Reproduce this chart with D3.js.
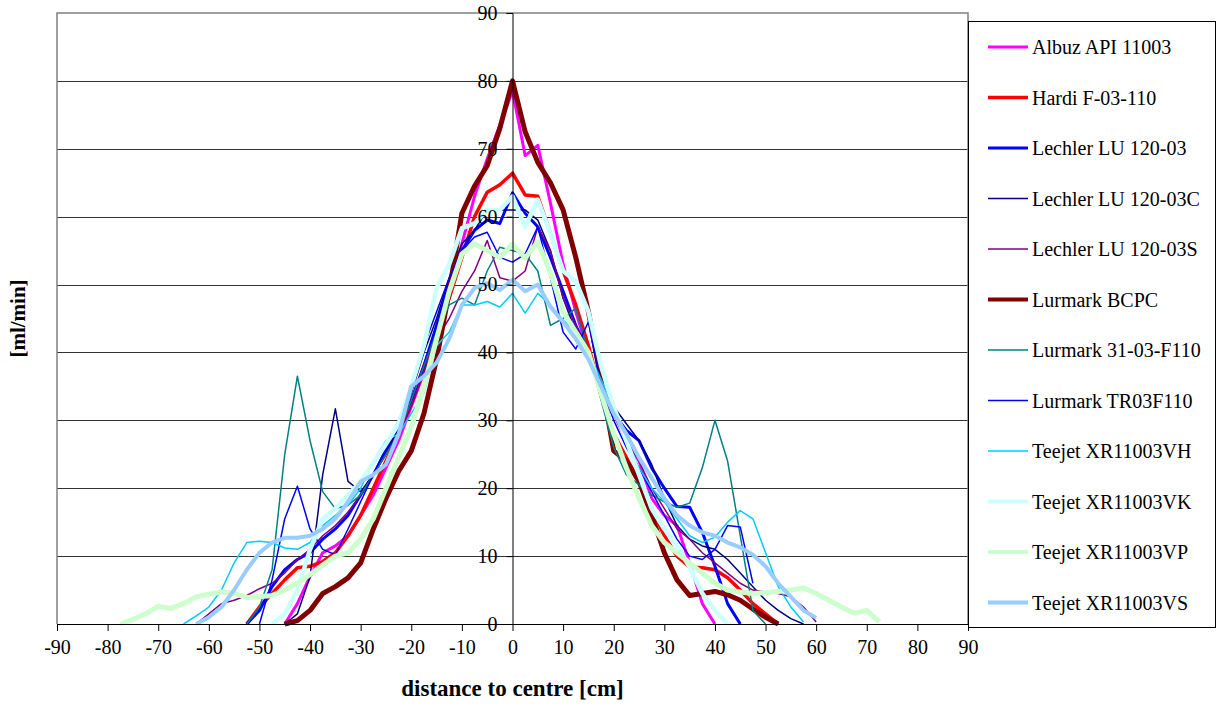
<!DOCTYPE html>
<html>
<head>
<meta charset="utf-8">
<script src="https://cdn.jsdelivr.net/npm/d3@7"></script>
<style>
  body { margin: 0; background: #fff; }
  text { font-family: "Liberation Serif", "Times New Roman", serif; fill: #000; }
</style>
</head>
<body>
<div id="chart"></div>
<script>
var n = null;

// distance to centre [cm]
var distance = [
  -77.5, -75, -72.5, -70, -67.5, -65, -62.5, -60, -57.5, -55,
  -52.5, -50, -47.5, -45, -42.5, -40, -37.5, -35, -32.5, -30,
  -27.5, -25, -22.5, -20, -17.5, -15, -12.5, -10, -7.5, -5,
  -2.5, 0, 2.5, 5, 7.5, 10, 12.5, 15, 17.5, 20,
  22.5, 25, 27.5, 30, 32.5, 35, 37.5, 40, 42.5, 45,
  47.5, 50, 52.5, 55, 57.5, 60, 62.5, 65, 67.5, 70, 72.5
];

// [ml/min]
var albuz = [
  n, n, n, n, n, n, n, n, n, n,
  n, n, n, 0, 3, 7, 10.5, 11.5, 13, 16,
  19, 23, 27, 32, 37, 43, 50, 56, 63, 68.5,
  73.5, 78.5, 69, 70.5, 62, 53, 46, 40, 34, 31,
  27, 24, 18.5, 16, 14.5, 9, 3, 0, n, n,
  n, n, n, n, n, n, n, n, n, n, n
];
var hardi = [
  n, n, n, n, n, n, n, n, n, n,
  0, 2.5, 4.5, 6.5, 8.3, 8.5, 9.2, 10.5, 13, 16,
  20, 24, 28, 32.5, 38, 43, 48, 54, 60, 63.6,
  64.7, 66.4, 63.2, 63, 57.5, 52, 47, 41, 34, 28,
  24.5, 21, 17, 13, 10, 8.4, 8.3, 8, 6.8, 5,
  3, 1.5, 0, n, n, n, n, n, n, n, n
];
var lu12003 = [
  n, n, n, n, n, n, n, n, n, n,
  0, 2, 5.5, 8, 9.5, 10.5, 12.5, 14, 16, 19,
  22, 25.5, 29, 33, 38, 44, 50, 55, 58, 59.5,
  59, 63.5, 60.5, 58.5, 54, 49, 44, 40, 35, 31,
  28.5, 27, 23, 20, 17.3, 17.2, 13.5, 8.5, 3, 0,
  n, n, n, n, n, n, n, n, n, n, n
];
var lu12003c = [
  n, n, n, n, n, n, n, n, n, n,
  n, n, n, 0, 1.5, 7, 22, 31.7, 21, 19.5,
  22, 25, 29, 34, 40, 45, 51, 56, 58, 61,
  61, 61, 61, 59.5, 55, 48, 43, 39, 35, 32,
  29.5, 27, 23.5, 18.5, 14.5, 12.5, 11.5, 11, 9.5, 7.5,
  5.5, 3.5, 2, 0.8, 0, n, n, n, n, n, n
];
var lu12003s = [
  n, n, n, n, n, n, 0, 1.5, 3, 3.5,
  4.2, 5.2, 6, 7.5, 9.5, 11, 13, 14.5, 16.5, 19,
  22, 25, 28, 32, 37, 42, 45, 49, 52, 56.5,
  51, 50.5, 52, 58.5, 55, 48, 44, 40, 35, 31,
  27, 24, 20, 17, 14, 12.5, 10.5, 9, 7.5, 6,
  5, 4.7, 4.5, 4, 2.5, 0.3, n, n, n, n, n
];
var bcpc = [
  n, n, n, n, n, n, n, n, n, n,
  n, n, n, 0, 0.5, 2, 4.5, 5.5, 6.8, 9,
  14, 18.5, 22.5, 25.5, 31, 39, 49, 60.5, 64.5, 67.5,
  73, 80, 72.5, 68, 65, 61, 54, 46, 36, 25.5,
  24, 21, 16, 10.5, 6.5, 4.2, 4.5, 4.8, 4.3, 3.5,
  2.2, 1, 0, n, n, n, n, n, n, n, n
];
var lm3103 = [
  n, n, n, n, n, n, n, n, n, n,
  0, 2.5, 8, 25, 36.5, 27, 19.5, 17, 17.5, 19,
  22, 25, 28, 33, 38, 43, 47, 48, 47, 52,
  55.5, 55, 54.5, 52, 44, 45, 46.5, 40, 33, 26,
  22, 20.5, 19, 18, 17.2, 17.8, 23, 30, 24, 13,
  2, 0, n, n, n, n, n, n, n, n, n
];
var tr03 = [
  n, n, n, n, n, n, n, n, n, n,
  n, 0, 6.5, 15.5, 20.3, 14, 11, 10.2, 14, 18,
  22, 26, 30, 35, 41, 46, 51, 55, 57, 57.7,
  54, 53.3, 54.5, 58.5, 51, 43, 40.5, 44.5, 35, 30,
  26, 23, 19.5, 16, 12.5, 10, 9.5, 11, 14.5, 14.3,
  6, n, n, n, n, n, n, n, n, n, n
];
var vh = [
  n, n, n, n, n, 0, 1.2, 2.5, 5, 9,
  12, 12.2, 12, 11.2, 11, 12, 14.5, 16, 17.5, 20,
  24, 27, 28, 31, 34, 41, 43, 47, 47, 47.5,
  46.7, 48.7, 45.8, 48.7, 47, 44.8, 43, 40, 36, 32,
  27, 23, 20, 18, 15.5, 13, 12, 12.8, 15, 16.7,
  15.5, 10.5, 5.5, 2.5, 0.3, n, n, n, n, n, n
];
var vk = [
  n, n, n, n, n, n, n, n, n, n,
  n, n, 0, 1.5, 5, 11, 15.5, 17, 19, 21,
  23.7, 26.5, 29.5, 35, 41, 49.5, 53, 58.3, 59, 61,
  61, 63, 58.5, 62.5, 57.5, 52, 50.5, 46, 38, 32,
  27, 22, 17, 14, 11.5, 8.4, 4.5, 2, 0, n,
  n, n, n, n, n, n, n, n, n, n, n
];
var vp = [
  0, 0.7, 1.5, 2.6, 2.3, 3, 4, 4.4, 4.7, 4.5,
  3.9, 4, 4.2, 5, 6, 7.3, 8.7, 10, 10.5, 12.5,
  15.5, 20, 24.5, 29, 35, 42, 49, 54.5, 56, 55,
  54, 56, 53.9, 56.3, 51.7, 46, 43, 40, 34, 28,
  23, 18.5, 14.5, 12, 10.5, 9, 7.5, 6, 5, 4.7,
  4.5, 4.6, 4.8, 5, 5.3, 4.5, 3.5, 2.5, 1.6, 2, 0.3
];
var vs = [
  n, n, n, n, n, n, 0, 1, 2.5, 5,
  8, 10.5, 12, 12.7, 12.7, 13, 14, 15.5, 18, 21,
  22, 23.5, 28, 35, 36.5, 38.5, 42, 47, 49.5, 50.2,
  49.2, 50.7, 49, 50, 46.7, 44.5, 42, 39, 35, 31,
  28, 24.5, 21.5, 18.5, 16, 14.5, 13.5, 13, 12, 11.3,
  10.2, 8.5, 6, 4, 2, 0.9, n, n, n, n, n
];

var names = ["Albuz API 11003", "Hardi F-03-110", "Lechler LU 120-03", "Lechler LU 120-03C",
  "Lechler LU 120-03S", "Lurmark BCPC", "Lurmark 31-03-F110", "Lurmark TR03F110",
  "Teejet XR11003VH", "Teejet XR11003VK", "Teejet XR11003VP", "Teejet XR11003VS"];
var values = [albuz, hardi, lu12003, lu12003c, lu12003s, bcpc, lm3103, tr03, vh, vk, vp, vs];
var colors = ["#ff00ff", "#ff0000", "#0000ff", "#000080", "#800080", "#800000",
  "#008080", "#0000ff", "#00ccff", "#ccffff", "#ccffcc", "#99ccff"];
var widths = [3, 3.5, 3, 1.5, 1.5, 5, 1.5, 1.5, 1.5, 4.5, 5, 4];

var xTicks = [-90, -80, -70, -60, -50, -40, -30, -20, -10, 0, 10, 20, 30, 40, 50, 60, 70, 80, 90];
var yTicks = [0, 10, 20, 30, 40, 50, 60, 70, 80, 90];

var W = 1221, H = 704;
var pLeft = 57, pRight = 968, pTop = 13, pBottom = 624;

var svg = d3.select("#chart")
    .append("svg")
    .attr("width", W)
    .attr("height", H);

var x = d3.scaleLinear().domain([-90, 90]).range([pLeft, pRight]);
var y = d3.scaleLinear().domain([0, 90]).range([pBottom, pTop]);

// grid lines
svg.append("g")
    .selectAll("line")
    .data(yTicks.filter(function (d) { return d > 0 && d < 90; }))
    .enter().append("line")
    .attr("x1", pLeft).attr("x2", pRight)
    .attr("y1", function (d) { return Math.round(y(d)) + 0.5; })
    .attr("y2", function (d) { return Math.round(y(d)) + 0.5; })
    .attr("stroke", "#333")
    .attr("stroke-width", 1);

// plot area border
svg.append("path")
    .attr("d", "M" + pLeft + "," + pBottom + "V" + pTop + "H" + pRight + "V" + pBottom)
    .attr("fill", "none")
    .attr("stroke", "#808080")
    .attr("stroke-width", 1.5);

// series
var line = d3.line()
    .defined(function (d) { return d[1] != null; })
    .x(function (d) { return x(d[0]); })
    .y(function (d) { return y(d[1]); });

svg.append("g")
    .selectAll("path")
    .data(values)
    .enter().append("path")
    .attr("d", function (v) { return line(distance.map(function (dd, i) { return [dd, v[i]]; })); })
    .attr("fill", "none")
    .attr("stroke", function (v, i) { return colors[i]; })
    .attr("stroke-width", function (v, i) { return widths[i]; })
    .attr("stroke-linejoin", "round");

var fmt = function (d) { return String(d); };

// x axis
var xAxis = svg.append("g")
    .attr("transform", "translate(0," + pBottom + ")")
    .call(d3.axisBottom(x).tickValues(xTicks).tickSize(7).tickPadding(9).tickFormat(fmt));
xAxis.select(".domain").attr("stroke", "#000");
xAxis.selectAll("text").style("font-size", "20px").style("font-family", "Liberation Serif");

// y axis in the centre
var yAxis = svg.append("g")
    .attr("transform", "translate(" + x(0) + ",0)")
    .call(d3.axisLeft(y).tickValues(yTicks).tickSize(6).tickPadding(9).tickFormat(fmt));
yAxis.select(".domain").attr("stroke", "#000");
yAxis.selectAll("text").style("font-size", "20px").style("font-family", "Liberation Serif");

// axis titles
svg.append("text")
    .attr("x", x(0))
    .attr("y", 696)
    .attr("text-anchor", "middle")
    .style("font-size", "23px")
    .style("font-weight", "bold")
    .text("distance to centre [cm]");

svg.append("text")
    .attr("transform", "translate(25," + ((pTop + pBottom) / 2) + ") rotate(-90)")
    .attr("text-anchor", "middle")
    .style("font-size", "21px")
    .style("font-weight", "bold")
    .text("[ml/min]");

// legend
var legend = svg.append("g");
legend.append("rect")
    .attr("x", 968.5).attr("y", 21.5)
    .attr("width", 247).attr("height", 606)
    .attr("fill", "#fff")
    .attr("stroke", "#000")
    .attr("stroke-width", 1);

var item = legend.selectAll("g.item")
    .data(names)
    .enter().append("g")
    .attr("class", "item")
    .attr("transform", function (d, i) { return "translate(988," + (47 + i * 50.5) + ")"; });

item.append("line")
    .attr("x1", 0).attr("x2", 40)
    .attr("stroke", function (d, i) { return colors[i]; })
    .attr("stroke-width", function (d, i) { return Math.min(widths[i], 4); });

item.append("text")
    .attr("x", 44)
    .attr("dy", "0.35em")
    .style("font-size", "20px")
    .text(function (d) { return d; });
</script>
</body>
</html>
